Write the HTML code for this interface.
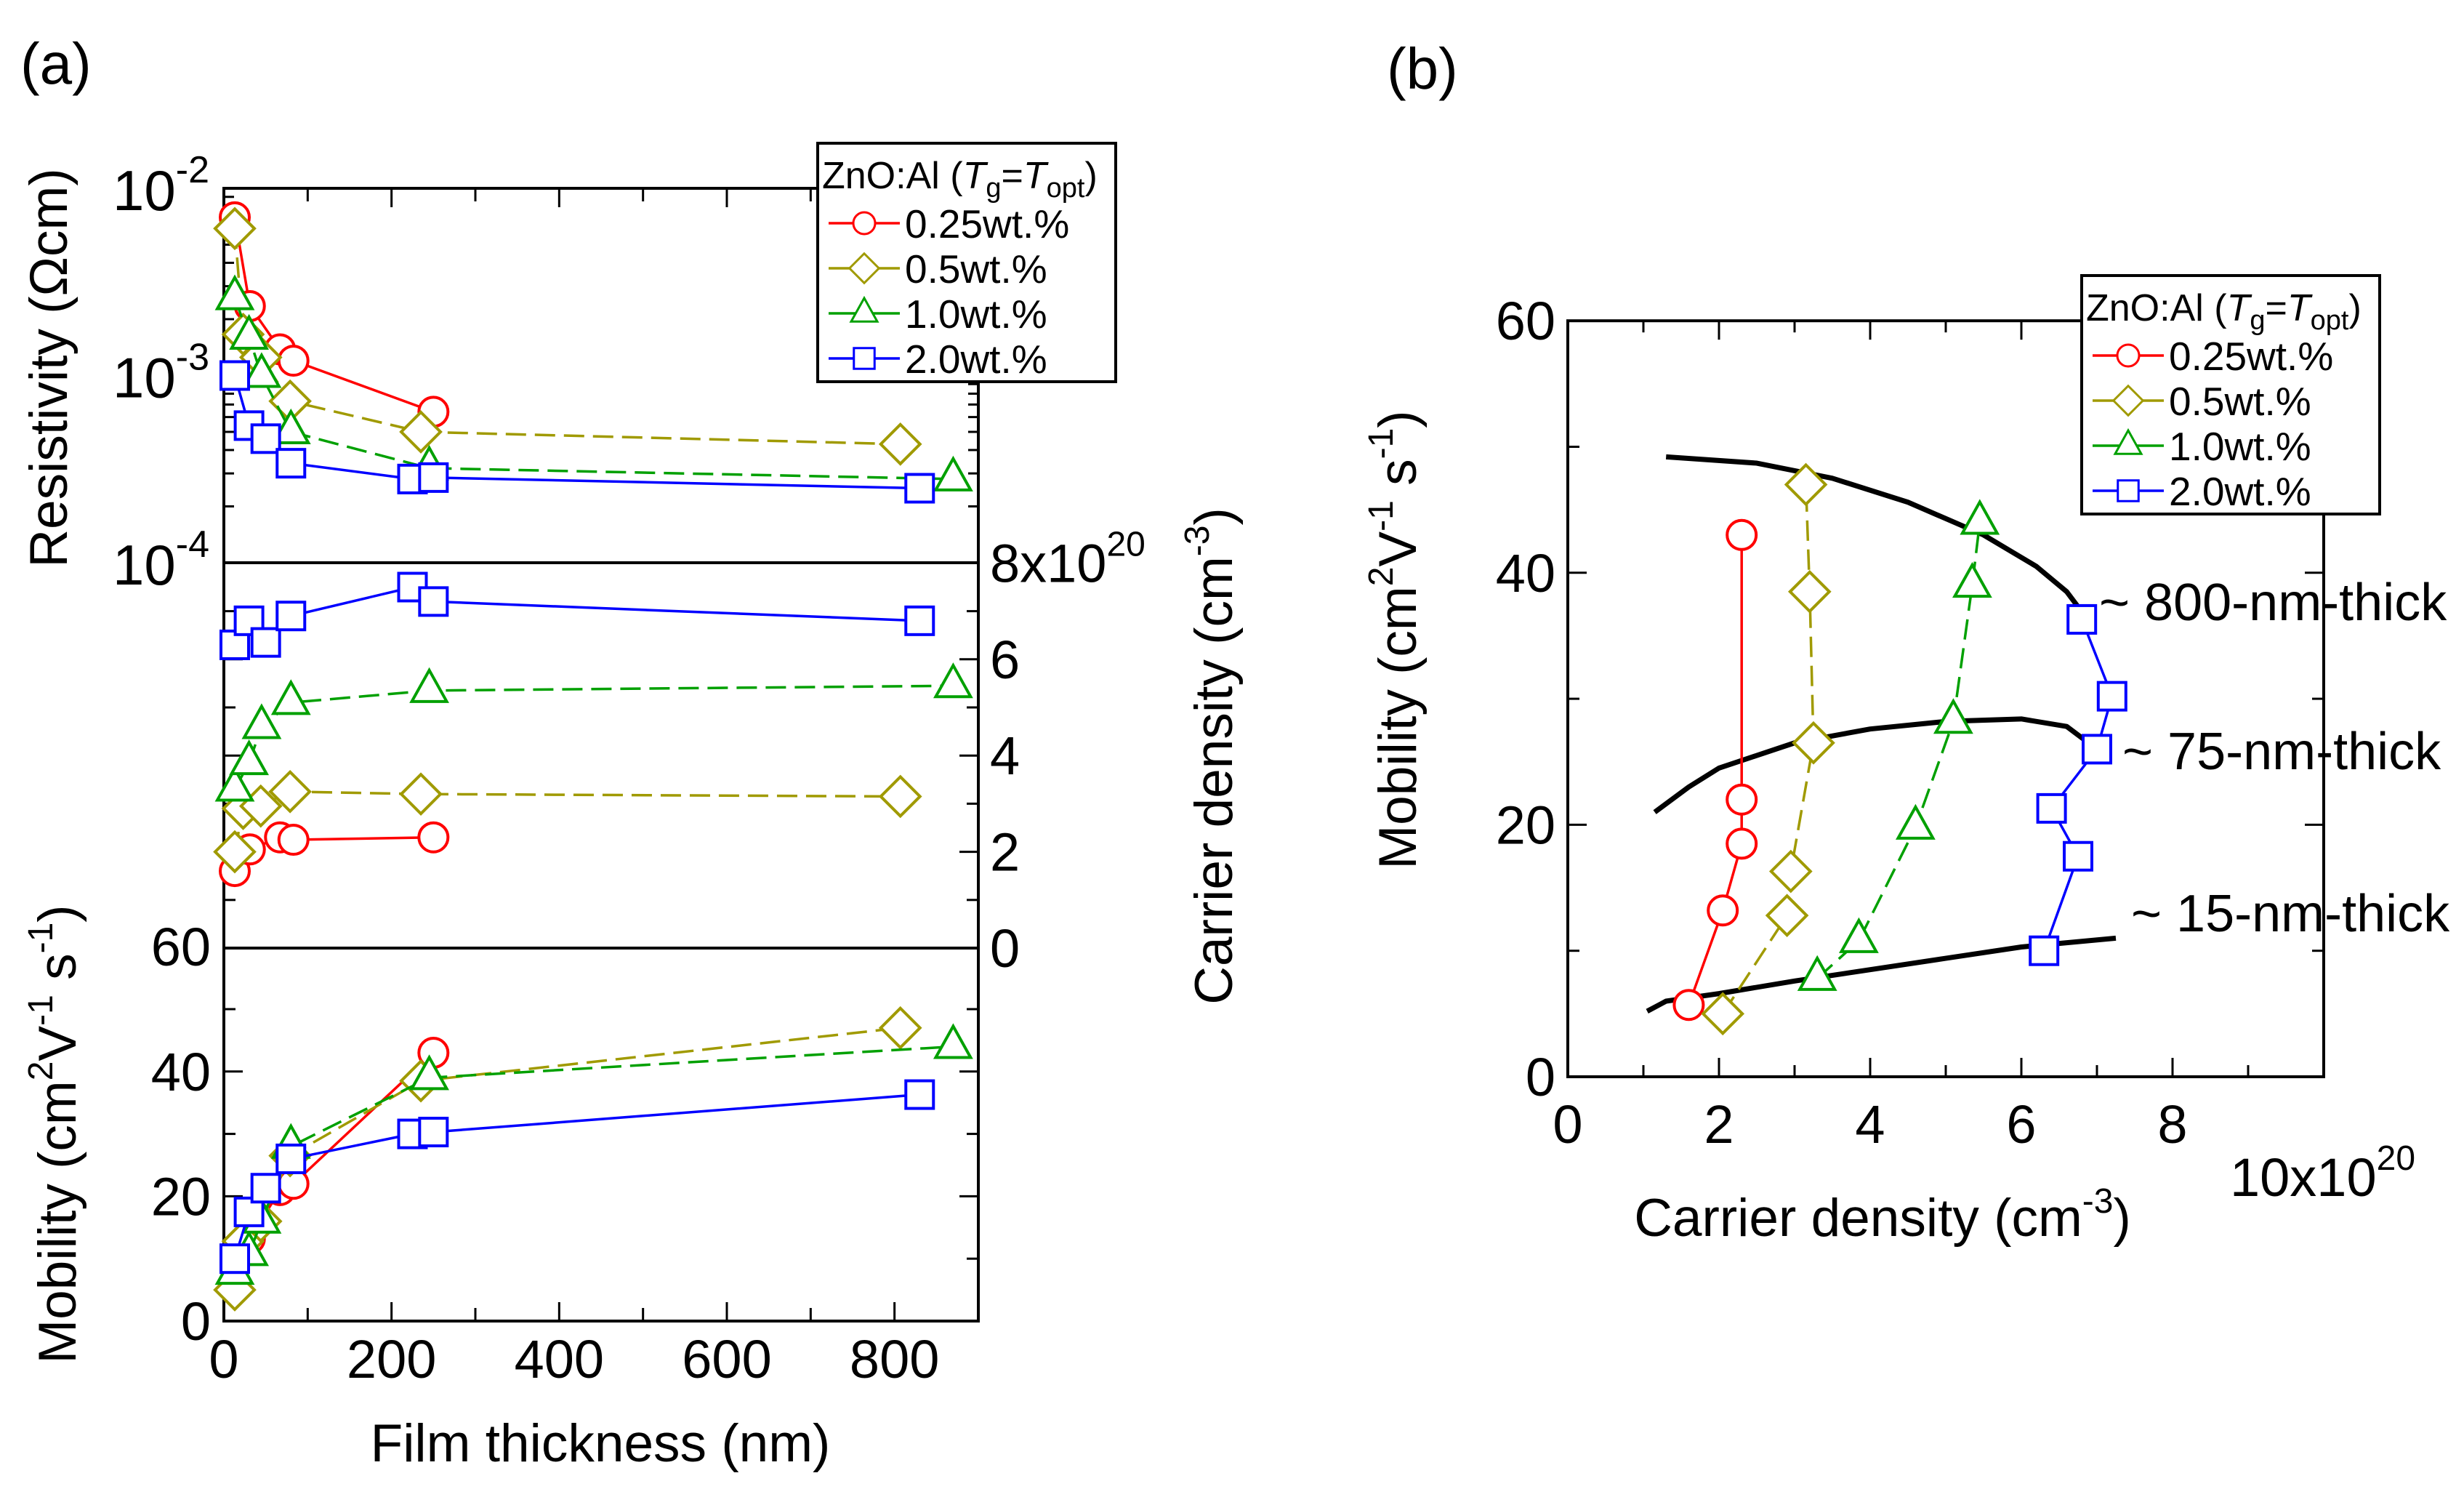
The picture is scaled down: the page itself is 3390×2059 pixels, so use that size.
<!DOCTYPE html>
<html><head><meta charset="utf-8"><style>
html,body{margin:0;padding:0;background:#fff;}
svg{display:block;font-family:"Liberation Sans",Arial,sans-serif;}
</style></head><body>
<svg id="fig" width="3390" height="2059" viewBox="0 0 3390 2059" xmlns="http://www.w3.org/2000/svg"></svg>
<script>
// ---- data: panel (a) ----
const redT=[13,31,67,83,250];
const redRho=[7.0e-3,2.35e-3,1.38e-3,1.2e-3,6.4e-4];
const redN=[1.6,2.05,2.3,2.25,2.3];
const redMu=[5.7,13.2,21,22,43];
const oliveT=[13,23,44,79,235,807];
const oliveRho=[6.1e-3,1.66e-3,1.25e-3,7.3e-4,5.0e-4,4.3e-4];
const oliveN=[2.0,2.9,2.95,3.25,3.2,3.15];
const oliveMu=[5,12.8,16,26.5,38.5,47];
const greenT=[13,30,45,80,245,870];
const greenRho=[2.6e-3,1.6e-3,1.0e-3,5.0e-4,3.2e-4,2.8e-4];
const greenN=[3.3,3.85,4.6,5.1,5.35,5.45];
const greenMu=[7.8,10.8,16,28,39,44];
const blueT=[13,30,50,80,225,250,830];
const blueRho=[1.0e-3,5.4e-4,4.6e-4,3.4e-4,2.8e-4,2.85e-4,2.5e-4];
const blueN=[6.3,6.8,6.35,6.9,7.5,7.2,6.8];
const blueMu=[10,17.5,21.3,26,30,30.3,36.3];
// ---- data: panel (b) ----
const bRedN=[1.6,2.05,2.3,2.3,2.3], bRedMu=[5.7,13.2,18.5,22,43];
const bOliveN=[2.05,2.9,2.95,3.25,3.2,3.15], bOliveMu=[5,12.8,16.3,26.5,38.5,47];
const bGreenN=[3.3,3.85,4.6,5.1,5.35,5.45], bGreenMu=[7.8,10.8,19.8,28.2,39,44];
const bBlueN=[6.3,6.75,6.4,7.0,7.2,6.8], bBlueMu=[10,17.5,21.3,26,30.2,36.3];
const c800N=[1.3,2.5,3.5,4.5,5.5,6.2,6.6,6.85], c800Mu=[49.2,48.7,47.5,45.6,43,40.5,38.5,36.5];
const c75N=[1.15,1.6,2,3,4,5,6,6.6,7.0], c75Mu=[21,23,24.5,26.5,27.6,28.2,28.4,27.8,26];
const c15N=[1.05,1.3,2,3,4,5,6,7.25], c15Mu=[5.2,6,6.6,7.6,8.5,9.4,10.3,11];
const xTicksA=[0,200,400,600,800], muTicks=[0,20,40,60], nTicks=[0,2,4,6], xTicksB=[0,2,4,6,8], muTicksB=[0,20,40,60];

const NS="http://www.w3.org/2000/svg", svg=document.getElementById('fig');
function el(tag,attrs,parent,txt){const e=document.createElementNS(NS,tag);for(const k in attrs)e.setAttribute(k,attrs[k]);if(txt!==undefined)e.textContent=txt;(parent||svg).appendChild(e);return e;}
const AX0=308,AX1=1346;
const xA=t=>AX0+(AX1-AX0)*t/900;
const yRho=r=>259+(-2-Math.log10(r))*257.5;
const yN=n=>1304-n*66.2;
const yMu=m=>1817-m*8.58;
const xB=n=>2157+n*104;
const yB=m=>1481-m*17.33;
const COL={red:'#ff0000',olive:'#a09a00',green:'#00a000',blue:'#0000ff'};
const TF=74, TT=73, SUP=48;

function marker(g,type,x,y,c){
  let e;
  if(type==='circle'){e=el('circle',{cx:x,cy:y,r:20,fill:'#fff',stroke:c,'stroke-width':4},g);}
  else if(type==='diamond'){e=el('polygon',{points:`${x},${y-27} ${x+27},${y} ${x},${y+27} ${x-27},${y}`,fill:'#fff',stroke:c,'stroke-width':4},g);}
  else if(type==='tri'){e=el('polygon',{points:`${x},${y-28} ${x+24},${y+15} ${x-24},${y+15}`,fill:'#fff',stroke:c,'stroke-width':4},g);}
  else {e=el('rect',{x:x-19,y:y-19,width:38,height:38,fill:'#fff',stroke:c,'stroke-width':4},g);}
  
  
}
function series(name,xs,ys,fx,fy,type,c,dash){
  const g=el('g',{});
  
  
  const pts=xs.map((v,i)=>fx(v)+','+fy(ys[i])).join(' ');
  const l=el('polyline',{points:pts,fill:'none',stroke:c,'stroke-width':3.5},g);
  if(dash)l.setAttribute('stroke-dasharray','28,12');
  xs.forEach((v,i)=>marker(g,type,fx(v),fy(ys[i]),c));
}
function txt(x,y,s,size,anchor,name,extra){const t=el('text',Object.assign({x:x,y:y,'font-size':size,'text-anchor':anchor||'start'},extra||{}),svg,s);return t;}

const fa=el('g',{});
el('rect',{x:AX0,y:259,width:AX1-AX0,height:1817-259,fill:'none',stroke:'#000','stroke-width':4},fa);
el('line',{x1:AX0,y1:774,x2:AX1,y2:774,stroke:'#000','stroke-width':4},fa);
el('line',{x1:AX0,y1:1304,x2:AX1,y2:1304,stroke:'#000','stroke-width':4},fa);
for(let t=100;t<900;t+=100){const L=t%200===0?26:18;el('line',{x1:xA(t),y1:259,x2:xA(t),y2:259+L,stroke:'#000','stroke-width':3},fa);el('line',{x1:xA(t),y1:1817,x2:xA(t),y2:1817-L,stroke:'#000','stroke-width':3},fa);}
for(let d=-4;d<-2;d++)for(let m=1;m<10;m++){const y=yRho(m*Math.pow(10,d));const L=m===1?26:14;el('line',{x1:AX0,y1:y,x2:AX0+L,y2:y,stroke:'#000','stroke-width':3},fa);el('line',{x1:AX1,y1:y,x2:AX1-L,y2:y,stroke:'#000','stroke-width':3},fa);}
for(let n=1;n<8;n++){const L=n%2===0?26:16;el('line',{x1:AX0,y1:yN(n),x2:AX0+L,y2:yN(n),stroke:'#000','stroke-width':3},fa);el('line',{x1:AX1,y1:yN(n),x2:AX1-L,y2:yN(n),stroke:'#000','stroke-width':3},fa);}
for(let m=10;m<60;m+=10){const L=m%20===0?26:16;el('line',{x1:AX0,y1:yMu(m),x2:AX0+L,y2:yMu(m),stroke:'#000','stroke-width':3},fa);el('line',{x1:AX1,y1:yMu(m),x2:AX1-L,y2:yMu(m),stroke:'#000','stroke-width':3},fa);}
xTicksA.forEach(v=>txt(xA(v),1895,String(v),TF,'middle','x-tick-label'));
muTicks.forEach(v=>txt(290,yMu(v)+26,String(v),TF,'end','mobility-tick-label'));
nTicks.forEach(v=>txt(1362,yN(v)+26,String(v),TF,'start','carrier-tick-label'));
[-2,-3,-4].forEach(d=>{const t=txt(155,yRho(Math.pow(10,d))+30,'10',TF+4,'start','resistivity-tick-label');el('tspan',{dy:-38,'font-size':SUP+4},t,String(d));});
{const t=txt(1362,yN(8)+26,'8x10',TF,'start','carrier-tick-label');el('tspan',{dy:-36,'font-size':SUP},t,'20');}
txt(826,2010,'Film thickness (nm)',TT,'middle','x-axis-title');
txt(0,0,'Resistivity (Ωcm)',TT,'middle','resistivity-axis-title',{transform:'translate(92,506) rotate(-90)'});
{const t=txt(0,0,'Mobility (cm',TT,'middle','mobility-axis-title-a',{transform:'translate(104,1560) rotate(-90)'});el('tspan',{dy:-32,'font-size':SUP},t,'2');el('tspan',{dy:32},t,'V');el('tspan',{dy:-32,'font-size':SUP},t,'-1');el('tspan',{dy:32},t,' s');el('tspan',{dy:-32,'font-size':SUP},t,'-1');el('tspan',{dy:32},t,')');}
{const t=txt(0,0,'Carrier density (cm',TT,'middle','carrier-axis-title',{transform:'translate(1695,1040) rotate(-90)'});el('tspan',{dy:-32,'font-size':SUP},t,'-3');el('tspan',{dy:32},t,')');}
txt(28,115,'(a)',80,'start','panel-a-label');
txt(1908,122,'(b)',80,'start','panel-b-label');

series('red-resistivity',redT,redRho,xA,yRho,'circle',COL.red,false);
series('olive-resistivity',oliveT,oliveRho,xA,yRho,'diamond',COL.olive,true);
series('green-resistivity',greenT,greenRho,xA,yRho,'tri',COL.green,true);
series('blue-resistivity',blueT,blueRho,xA,yRho,'rect',COL.blue,false);
series('red-carrier',redT,redN,xA,yN,'circle',COL.red,false);
series('olive-carrier',oliveT,oliveN,xA,yN,'diamond',COL.olive,true);
series('green-carrier',greenT,greenN,xA,yN,'tri',COL.green,true);
series('blue-carrier',blueT,blueN,xA,yN,'rect',COL.blue,false);
series('red-mobility',redT,redMu,xA,yMu,'circle',COL.red,false);
series('olive-mobility',oliveT,oliveMu,xA,yMu,'diamond',COL.olive,true);
series('green-mobility',greenT,greenMu,xA,yMu,'tri',COL.green,true);
series('blue-mobility',blueT,blueMu,xA,yMu,'rect',COL.blue,false);

const fb=el('g',{});
el('rect',{x:xB(0),y:yB(60),width:xB(10)-xB(0),height:yB(0)-yB(60),fill:'none',stroke:'#000','stroke-width':4},fb);
for(let n=1;n<10;n++){const L=n%2===0?26:16;el('line',{x1:xB(n),y1:yB(0),x2:xB(n),y2:yB(0)-L,stroke:'#000','stroke-width':3},fb);el('line',{x1:xB(n),y1:yB(60),x2:xB(n),y2:yB(60)+L,stroke:'#000','stroke-width':3},fb);}
for(let m=10;m<60;m+=10){const L=m%20===0?26:16;el('line',{x1:xB(0),y1:yB(m),x2:xB(0)+L,y2:yB(m),stroke:'#000','stroke-width':3},fb);el('line',{x1:xB(10),y1:yB(m),x2:xB(10)-L,y2:yB(m),stroke:'#000','stroke-width':3},fb);}
xTicksB.forEach(v=>txt(xB(v),1572,String(v),TF,'middle','b-x-tick-label'));
muTicksB.forEach(v=>txt(2140,yB(v)+26,String(v),TF,'end','b-y-tick-label'));
{const t=txt(3068,1645,'10x10',TF,'start','b-x-multiplier');el('tspan',{dy:-36,'font-size':SUP},t,'20');}
{const t=txt(2590,1700,'Carrier density (cm',TT,'middle','b-x-axis-title');el('tspan',{dy:-32,'font-size':SUP},t,'-3');el('tspan',{dy:32},t,')');}
{const t=txt(0,0,'Mobility (cm',TT,'middle','b-y-axis-title',{transform:'translate(1948,880) rotate(-90)'});el('tspan',{dy:-32,'font-size':SUP},t,'2');el('tspan',{dy:32},t,'V');el('tspan',{dy:-32,'font-size':SUP},t,'-1');el('tspan',{dy:32},t,' s');el('tspan',{dy:-32,'font-size':SUP},t,'-1');el('tspan',{dy:32},t,')');}
function curve(name,xs,ys){const p=el('polyline',{points:xs.map((v,i)=>xB(v)+','+yB(ys[i])).join(' '),fill:'none',stroke:'#000','stroke-width':7,'stroke-linejoin':'round'});}
curve('curve-800nm',c800N,c800Mu);curve('curve-75nm',c75N,c75Mu);curve('curve-15nm',c15N,c15Mu);
series('b-red',bRedN,bRedMu,xB,yB,'circle',COL.red,false);
series('b-olive',bOliveN,bOliveMu,xB,yB,'diamond',COL.olive,true);
series('b-green',bGreenN,bGreenMu,xB,yB,'tri',COL.green,true);
series('b-blue',bBlueN,bBlueMu,xB,yB,'rect',COL.blue,false);
txt(2888,853,'~ 800-nm-thick',72,'start','label-800nm');
txt(2920,1058,'~ 75-nm-thick',72,'start','label-75nm');
txt(2932,1281,'~ 15-nm-thick',72,'start','label-15nm');

function legend(x0,y0,name){
  const g=el('g',{});
  el('rect',{x:x0,y:y0,width:410,height:328,fill:'#fff',stroke:'#000','stroke-width':4},g);
  const t=el('text',{x:x0+6,y:y0+62,'font-size':52},g,'ZnO:Al (');
  el('tspan',{'font-style':'italic'},t,'T');el('tspan',{dy:12,'font-size':38},t,'g');el('tspan',{dy:-12},t,'=');el('tspan',{'font-style':'italic'},t,'T');el('tspan',{dy:12,'font-size':38},t,'opt');el('tspan',{dy:-12},t,')');
  const rows=[['0.25wt.%','circle',COL.red],['0.5wt.%','diamond',COL.olive],['1.0wt.%','tri',COL.green],['2.0wt.%','rect',COL.blue]];
  rows.forEach((r,i)=>{const y=y0+110+i*62;el('line',{x1:x0+15,y1:y,x2:x0+113,y2:y,stroke:r[2],'stroke-width':3.5},g);
    const s=el('g',{transform:`translate(${x0+64},${y}) scale(0.75) translate(${-(x0+64)},${-y})`},g);marker(s,r[1],x0+64,y,r[2]);
    el('text',{x:x0+120,y:y+20,'font-size':55},g,r[0]);});
}
legend(1125,197,'legend-a');
legend(2864,379,'legend-b');
</script>
</body></html>
